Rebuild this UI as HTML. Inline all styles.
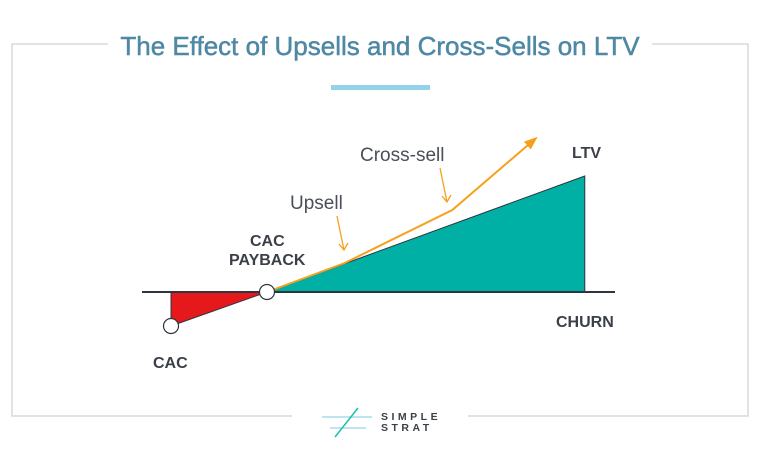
<!DOCTYPE html>
<html><head><meta charset="utf-8"><style>
body{margin:0;background:#fff;width:760px;height:461px;overflow:hidden}
svg{display:block}
text{font-family:"Liberation Sans",sans-serif}
</style></head><body>
<svg width="760" height="461">
<rect x="12" y="44" width="736" height="372" fill="none" stroke="#d8d8d8" stroke-width="1.5"/>
<rect x="108" y="30" width="544" height="30" fill="#fff"/>
<text x="380" y="55" text-anchor="middle" font-size="26" fill="#4e88a4" stroke="#4e88a4" stroke-width="0.5">The Effect of Upsells and Cross-Sells on LTV</text>
<rect x="331" y="85" width="99" height="5" fill="#93d3ea"/>
<g id="plot"></g>
<rect x="292" y="405" width="176" height="20" fill="#fff"/>
<g>
<line x1="322" y1="417" x2="372" y2="417" stroke="#a8dbea" stroke-width="1.5"/>
<line x1="330" y1="428" x2="366" y2="428" stroke="#a8dbea" stroke-width="1.5"/>
<line x1="335" y1="437" x2="358" y2="408" stroke="#1cc0ae" stroke-width="1.5"/>
<text x="381" y="420" font-size="10.5" font-weight="bold" fill="#3a3f48" letter-spacing="3.5">SIMPLE</text>
<text x="381" y="431" font-size="10.5" font-weight="bold" fill="#3a3f48" letter-spacing="3.5">STRAT</text>
</g>
</svg>
<script>
const stages=["CAC","CAC PAYBACK","Upsell","Cross-sell","Arrow","Churn"];
const stageT=[0,1,1.81,2.93,3.78,4.31];
const baseValue=[-3.4,0,2.9,8.1,11.6,11.6];
const upsellValue=[-3.4,0,2.9,8.2,15.2];
const ns="http://www.w3.org/2000/svg";
const X=t=>171+t*96, Y=v=>292-v*10;
const g=document.getElementById('plot');
function mk(tag,attrs){const e=document.createElementNS(ns,tag);for(const k in attrs)e.setAttribute(k,attrs[k]);g.appendChild(e);return e;}
const churnV=11.6;
let p=mk('polygon',{points:`${X(stageT[1])},${Y(0)} ${X(stageT[5])},${Y(churnV)} ${X(stageT[5])},${Y(0)}`,fill:'#00b0a5',stroke:'#2f3540','stroke-width':1});


let r=mk('polygon',{points:`${X(stageT[0])},${Y(0)} ${X(stageT[0])},${Y(baseValue[0])} ${X(stageT[1])},${Y(0)}`,fill:'#e5191b',stroke:'#2f3540','stroke-width':1});


let ax=mk('line',{x1:142,y1:292,x2:615,y2:292,stroke:'#2f3540','stroke-width':2});


const pts=[1,2,3,4].map(i=>`${X(stageT[i])},${Y(upsellValue[i])}`).join(' ');
let ol=mk('polyline',{points:pts,fill:'none',stroke:'#f7a01c','stroke-width':2});


const ex=X(stageT[4]),ey=Y(upsellValue[4]),sx=X(stageT[3]),sy=Y(upsellValue[3]);
const ang=Math.atan2(ey-sy,ex-sx);
const hp=(a,l)=>`${ex+l*Math.cos(a)},${ey+l*Math.sin(a)}`;
let ah=mk('polygon',{points:`${hp(ang,5)} ${hp(ang+2.6,10)} ${hp(ang-2.6,10)}`,fill:'#f7a01c'});


function callout(name,x1,y1,x2,y2){let l=mk('polyline',{points:`${x1},${y1} ${x2},${y2}`,stroke:'#f7a01c','stroke-width':1.3,fill:'none'});


let h=mk('polyline',{points:`${x2-5},${y2-6} ${x2},${y2} ${x2+4},${y2-7}`,stroke:'#f7a01c','stroke-width':1.3,fill:'none'});}
callout('upsell-callout',337,216,344,250);
callout('cross-sell-callout',440,168,447,202);
[[0,baseValue[0],'cac-point'],[1,0,'payback-point']].forEach(d=>{let c=mk('circle',{cx:X(stageT[d[0]]),cy:Y(d[1]),r:7.5,fill:'#fff',stroke:'#2f3540','stroke-width':1.2});

});
function tx(s,x,y,name,opts){let t=mk('text',Object.assign({x:x,y:y,'font-size':14,fill:'#3a3f48'},opts||{}));t.textContent=s;

}
tx('CAC',153,368,'cac-label',{'font-weight':'bold','font-size':16});
tx('CAC',250,246,'cac-payback-label-1',{'font-weight':'bold','font-size':16});
tx('PAYBACK',229,265,'cac-payback-label-2',{'font-weight':'bold','font-size':16});
tx('CHURN',556,327,'churn-label',{'font-weight':'bold','font-size':16});
tx('LTV',572,158,'ltv-label',{'font-weight':'bold','font-size':16});
tx('Upsell',290,209,'upsell-label',{'font-size':19,fill:'#4a4f58'});
tx('Cross-sell',360,161,'cross-sell-label',{'font-size':19,fill:'#4a4f58'});
</script>
</body></html>
